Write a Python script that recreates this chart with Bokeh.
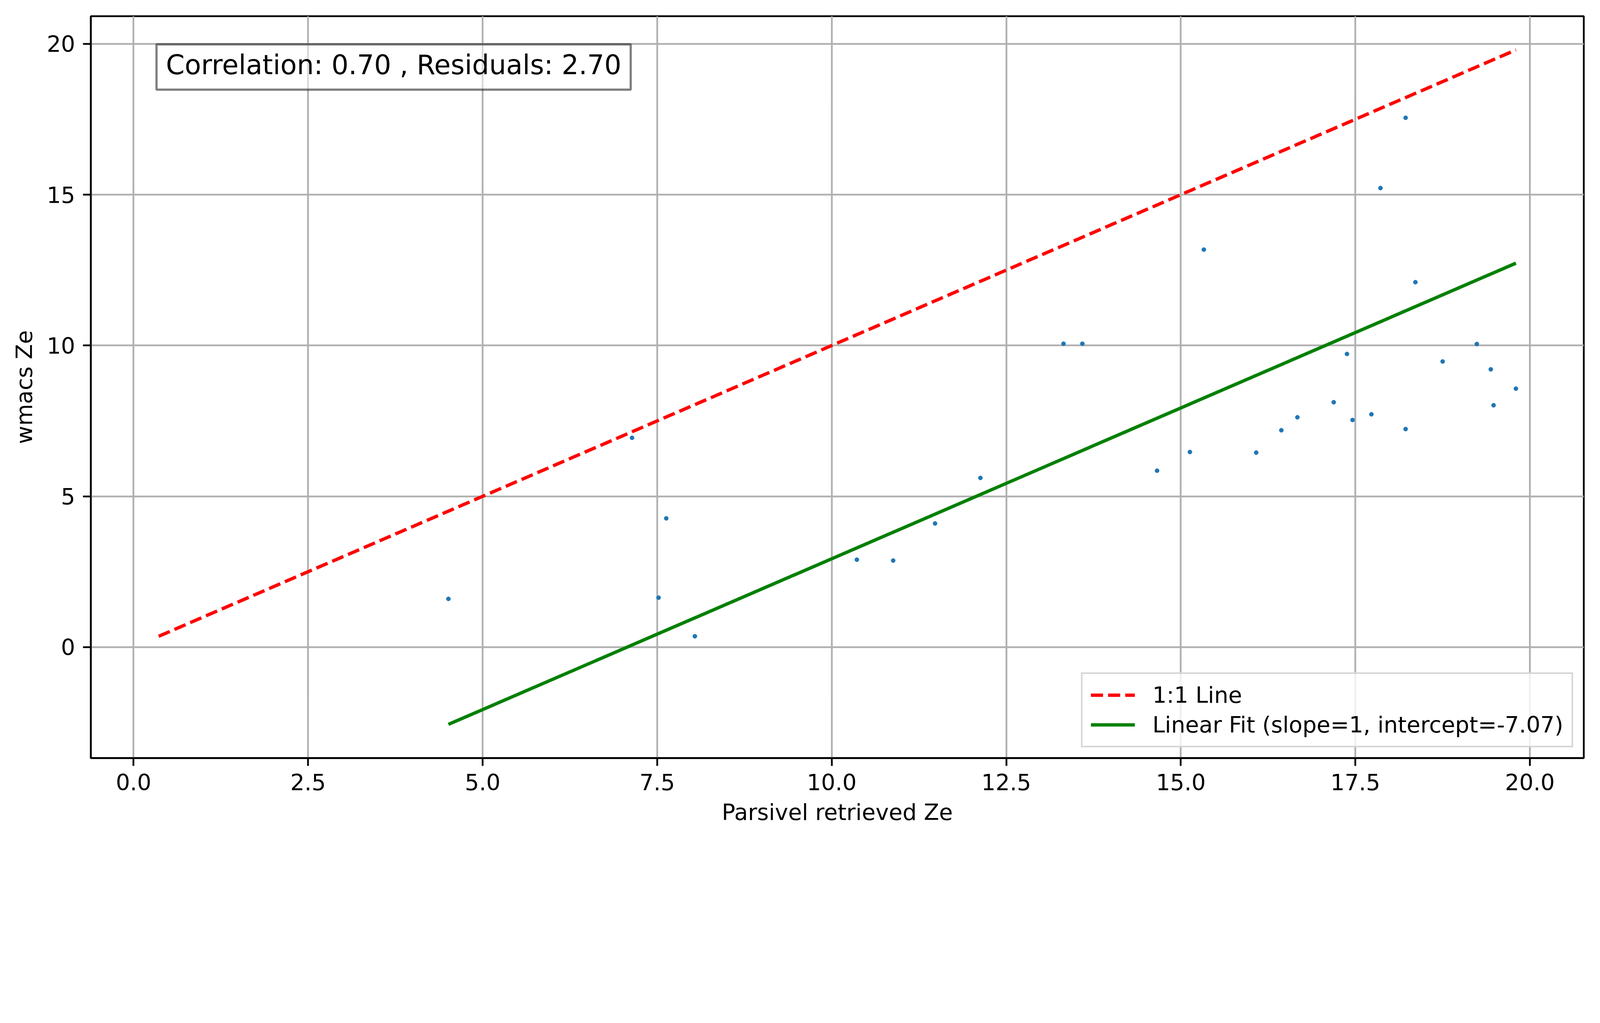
from bokeh.plotting import figure
from bokeh.models import Label, FixedTicker, Range1d, NumeralTickFormatter
from bokeh.embed import file_html
from bokeh.resources import INLINE

# ---- data ----
parsivel_ze = [4.51, 7.14, 7.52, 7.63, 8.04, 10.36, 10.88, 11.48, 12.13, 13.32,
               13.59, 14.66, 15.13, 15.33, 16.08, 16.44, 16.67, 17.19, 17.38, 17.46,
               17.73, 17.86, 18.22, 18.22, 18.36, 18.75, 19.24, 19.44, 19.48, 19.80]
wmacs_ze = [1.60, 6.94, 1.64, 4.27, 0.36, 2.90, 2.87, 4.10, 5.61, 10.06,
            10.06, 5.85, 6.47, 13.18, 6.45, 7.19, 7.62, 8.12, 9.72, 7.53,
            7.72, 15.22, 17.55, 7.23, 12.10, 9.47, 10.05, 9.21, 8.02, 8.57]
fit_slope = 1.0
fit_intercept = -7.07
correlation = 0.70
residuals = 2.70
x_ticks = [0.0, 2.5, 5.0, 7.5, 10.0, 12.5, 15.0, 17.5, 20.0]
y_ticks = [0, 5, 10, 15, 20]

# derived lines
one_lo = min(min(parsivel_ze), min(wmacs_ze))
one_hi = max(max(parsivel_ze), max(wmacs_ze))
one_x = [one_lo, one_hi]
one_y = [one_lo, one_hi]
fit_x = [min(parsivel_ze), max(parsivel_ze)]
fit_y = [fit_slope * v + fit_intercept for v in fit_x]

xmin = min(one_x + parsivel_ze + fit_x); xmax = max(one_x + parsivel_ze + fit_x)
ymin = min(one_y + wmacs_ze + fit_y); ymax = max(one_y + wmacs_ze + fit_y)
xpad = 0.05 * (xmax - xmin); ypad = 0.05 * (ymax - ymin)
x0, x1 = xmin - xpad, xmax + xpad
y0, y1 = ymin - ypad, ymax + ypad

# the page is laid out in CSS px; reference px * S = CSS px
S = 4096.0 / 4981.0
def px(v):
    return v * S

FONT = "DejaVu Sans"
LW = px(5.5)
W = 4080
H = 2146
frame_l = 282 * S
frame_t = 50 * S
frame_r = 4930 * S
frame_b = 2360 * S

p = figure(width=W, height=H, output_backend="svg", toolbar_location=None,
           x_range=Range1d(x0, x1), y_range=Range1d(y0, y1),
           min_border_left=int(round(frame_l)), min_border_right=int(round(W - frame_r)),
           min_border_top=int(round(frame_t)), min_border_bottom=int(round(H - frame_b)))

p.outline_line_color = "black"
p.outline_line_width = LW
p.outline_line_alpha = 1.0

p.xaxis.ticker = FixedTicker(ticks=x_ticks)
p.yaxis.ticker = FixedTicker(ticks=y_ticks)
p.xgrid.ticker = FixedTicker(ticks=x_ticks)
p.ygrid.ticker = FixedTicker(ticks=y_ticks)
p.xaxis.formatter = NumeralTickFormatter(format="0.0")
p.yaxis.formatter = NumeralTickFormatter(format="0")

p.grid.grid_line_color = "#b0b0b0"
p.grid.grid_line_width = LW

fs = "%.1fpx" % px(69.5)
for ax in p.axis:
    ax.axis_line_color = "black"
    ax.axis_line_width = LW
    ax.major_tick_line_color = "black"
    ax.major_tick_line_width = LW
    ax.major_tick_out = int(round(px(24)))
    ax.major_tick_in = 0
    ax.minor_tick_out = 0
    ax.minor_tick_in = 0
    ax.major_label_text_font = FONT
    ax.major_label_text_font_size = fs
    ax.major_label_text_color = "black"
    ax.axis_label_text_font = FONT
    ax.axis_label_text_font_size = fs
    ax.axis_label_text_font_style = "normal"
    ax.axis_label_text_color = "black"

p.xaxis.axis_label = "Parsivel retrieved Ze"
p.yaxis.axis_label = "wmacs Ze"
p.xaxis.major_label_standoff = int(round(px(24)))
p.yaxis.major_label_standoff = int(round(px(24)))
p.xaxis.axis_label_standoff = int(round(px(24)))
p.yaxis.axis_label_standoff = int(round(px(27)))

p.scatter(parsivel_ze, wmacs_ze, size=px(13), color="#1f77b4")
p.line(one_x, one_y, line_color="red", line_width=px(10.3),
       line_dash="%d %d" % (round(px(38)), round(px(16))),
       legend_label="1:1 Line")
p.line(fit_x, fit_y, line_color="green", line_width=px(10.3),
       legend_label="Linear Fit (slope=%d, intercept=%.2f)" % (fit_slope, fit_intercept))

lg = p.legend[0]
lg.location = "bottom_right"
lg.margin = int(round(px(33)))
lg.padding = int(round(px(26)))
lg.spacing = int(round(px(12)))
lg.glyph_width = int(round(px(137)))
lg.glyph_height = int(round(px(70)))
lg.label_height = int(round(px(70)))
lg.label_standoff = int(round(px(55)))
lg.label_text_font = FONT
lg.label_text_font_size = fs
lg.label_text_color = "black"
lg.border_line_color = "#cccccc"
lg.border_line_width = LW
lg.border_line_alpha = 0.8
lg.background_fill_color = "white"
lg.background_fill_alpha = 0.8

# text box: top-left corner of the box at (0.044, 0.962) of the axes
label = Label(x=x0 + 0.044 * (x1 - x0), y=y0 + 0.962 * (y1 - y0),
              text="Correlation: %.2f , Residuals: %.2f" % (correlation, residuals),
              text_font=FONT, text_font_size="%.1fpx" % px(83.5), text_color="black",
              text_align="left", text_baseline="top",
              background_fill_color="white", background_fill_alpha=0.5,
              border_line_color="black", border_line_alpha=0.5, border_line_width=px(6.9),
              padding=dict(left=24, right=24, top=12, bottom=24))
p.add_layout(label)

open("out.html", "w").write(file_html(p, INLINE))
